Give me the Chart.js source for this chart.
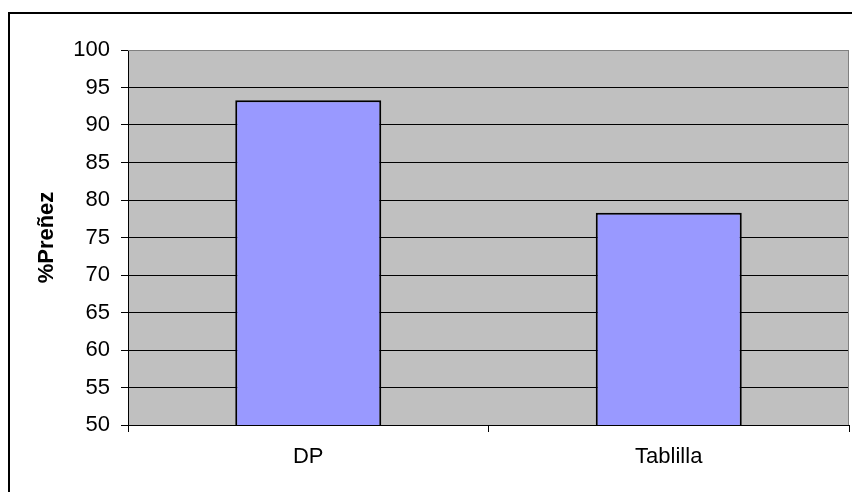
<!DOCTYPE html>
<html>
<head>
<meta charset="utf-8">
<script src="https://cdn.jsdelivr.net/npm/chart.js@4/dist/chart.umd.min.js"></script>
<style>
  html, body { margin: 0; padding: 0; background: #fff; }
  #c { display: block; }
</style>
</head>
<body>
<canvas id="c" width="852" height="492"></canvas>
<script>
  // datos
  const categorias = ["DP", "Tablilla"];
  const prenez = [93.3, 78.3];
  const yMin = 50, yMax = 100, yPaso = 5;
  const tituloY = "%Preñez";

  const FONT = "'Liberation Sans', Arial, sans-serif";

  // marco exterior + fondo gris del área de trazado
  const marco = {
    id: "marco",
    beforeDraw(chart) {
      const ctx = chart.ctx, a = chart.chartArea;
      ctx.save();
      ctx.fillStyle = "#fff";
      ctx.fillRect(0, 0, chart.width, chart.height);
      ctx.strokeStyle = "#000";
      ctx.lineWidth = 2;
      ctx.strokeRect(9, 13, chart.width + 20, chart.height + 20);
      ctx.fillStyle = "#C0C0C0";
      ctx.fillRect(a.left, a.top, a.right - a.left, a.bottom - a.top);
      ctx.restore();
    },
    afterDatasetsDraw(chart) {
      const ctx = chart.ctx, a = chart.chartArea;
      ctx.save();
      ctx.strokeStyle = "#808080";
      ctx.lineWidth = 1;
      ctx.beginPath();
      ctx.moveTo(a.left, a.top + 0.5);
      ctx.lineTo(a.right - 0.5, a.top + 0.5);
      ctx.lineTo(a.right - 0.5, a.bottom);
      ctx.stroke();
      ctx.restore();
    }
  };

  new Chart(document.getElementById("c"), {
    type: "bar",
    data: {
      labels: categorias,
      datasets: [{
        data: prenez,
        backgroundColor: "#9999FF",
        borderColor: "#000",
        borderWidth: 2,
        categoryPercentage: 1,
        barPercentage: 0.405
      }]
    },
    options: {
      responsive: false,
      animation: false,
      devicePixelRatio: 1,
      layout: { padding: { left: 0, top: 50, right: 3, bottom: 0 } },
      plugins: { legend: { display: false }, tooltip: { enabled: false } },
      scales: {
        x: {
          afterFit: (s) => { s.height = 67; },
          grid: { offset: true, drawOnChartArea: false, drawTicks: true, tickLength: 7, color: "#000" },
          border: { color: "#000", width: 1 },
          ticks: { color: "#000", font: { family: FONT, size: 22 }, padding: 12 }
        },
        y: {
          min: yMin, max: yMax,
          afterFit: (s) => { s.width = 128; },
          grid: {
            color: (c) => (c.tick && c.tick.value === yMax ? "#808080" : "#000"),
            tickColor: "#000",
            tickLength: 7,
            lineWidth: 1
          },
          border: { color: "#000", width: 1 },
          ticks: { stepSize: yPaso, color: "#000", font: { family: FONT, size: 22 }, padding: 11 },
          title: {
            display: true, text: tituloY, color: "#000",
            font: { family: FONT, size: 22, weight: "bold" },
            padding: { top: 34, bottom: 0 }
          }
        }
      }
    },
    plugins: [marco]
  });
</script>
</body>
</html>
